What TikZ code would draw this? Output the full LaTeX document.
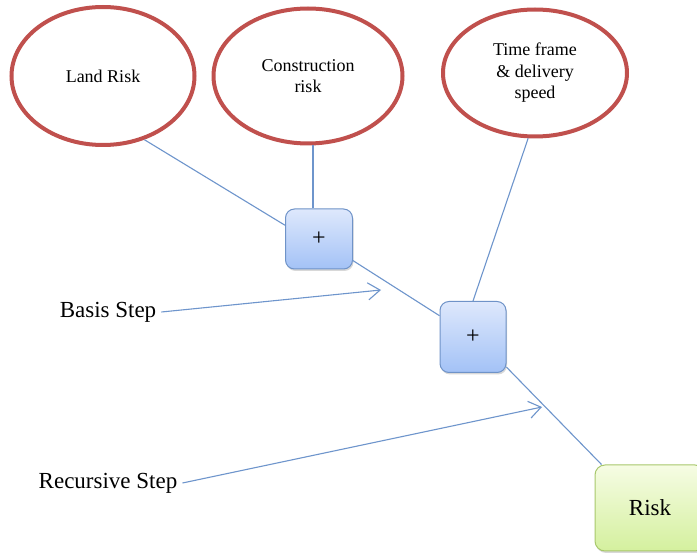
\documentclass[tikz,border=0pt]{standalone}
\usepackage{fontspec}
\setmainfont{Liberation Serif}
\usetikzlibrary{shapes.geometric, arrows.meta, positioning, shadows}

\definecolor{riskred}{RGB}{192,80,77}
\definecolor{linkblue}{RGB}{110,149,204}
\definecolor{boxedge}{RGB}{111,147,200}
\definecolor{boxtop}{RGB}{222,232,252}
\definecolor{boxbottom}{RGB}{163,194,246}
\definecolor{greenedge}{RGB}{168,200,108}
\definecolor{greentop}{RGB}{246,252,228}
\definecolor{greenbottom}{RGB}{212,240,158}

\begin{document}
\begin{tikzpicture}[
    x=1pt, y=-1pt,
    factor/.style={ellipse, draw=riskred, line width=4pt, align=center,
                   font=\fontsize{18}{21.5}\selectfont},
    plusbox/.style={rectangle, rounded corners=9pt, draw=boxedge, line width=1pt,
                    top color=boxtop, bottom color=boxbottom,
                    drop shadow={shadow xshift=1pt, shadow yshift=-2pt, opacity=.3},
                    font=\fontsize{24}{26}\selectfont},
    resultbox/.style={rectangle, rounded corners=10pt, draw=greenedge, line width=1pt,
                      top color=greentop, bottom color=greenbottom,
                      drop shadow={shadow xshift=1pt, shadow yshift=-2pt, opacity=.3},
                      font=\fontsize{23}{25}\selectfont},
    steplabel/.style={font=\fontsize{23}{25}\selectfont, inner sep=5pt},
    link/.style={draw=linkblue, line width=1.1pt},
    pointer/.style={link, -{Straight Barb[length=12pt, width=17pt, line width=1.1pt]}}
]
\useasboundingbox[fill=white] (0,0) rectangle (697,553);
\clip (0,0) rectangle (697,553);

% risk factors
\node[factor, minimum width=183pt, minimum height=138pt] (land) at (103,76) {Land Risk};
\node[factor, minimum width=189pt, minimum height=135pt] (cons) at (308,76) {Construction\\risk};
\node[factor, minimum width=184pt, minimum height=127pt] (time) at (535,73) {Time frame\\\& delivery\\speed};

% combining steps
\node[plusbox, minimum width=67pt, minimum height=60pt] (plus1) at (319,239) {+};
\node[plusbox, minimum width=66pt, minimum height=71pt] (plus2) at (473,337) {+};
\node[resultbox, minimum width=110pt, minimum height=86pt] (risk) at (650,508) {Risk};

\node[steplabel] (basis) at (108,312) {Basis Step};
\node[steplabel] (recur) at (108,483) {Recursive Step};
\coordinate (basisTip) at (381,290);
\coordinate (recurTip) at (542,407);

\draw[link] (land.-57) -- (plus1.158);
\draw[link] ([xshift=-6pt]plus1.north) -- ([xshift=-6pt]plus1.north |- cons.south);
\draw[link] (plus1) -- (plus2);
\draw[link] (time.-96) -- (plus2.north);
\draw[link] (plus2.-42) -- ([xshift=7pt]risk.north west);

\draw[pointer] (basis.east) -- (basisTip);
\draw[pointer] (recur.east) -- (recurTip);
\end{tikzpicture}
\end{document}
